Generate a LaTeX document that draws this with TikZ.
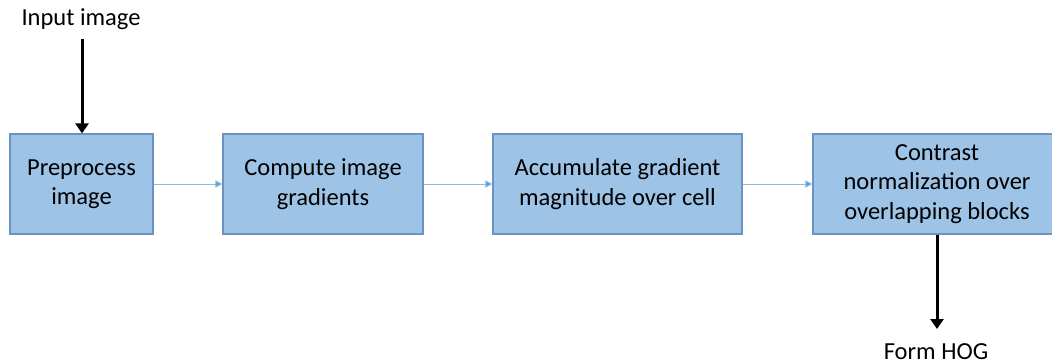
\documentclass[tikz,border=0pt]{standalone}
\usepackage{fontspec}
\setmainfont{Carlito}
\usetikzlibrary{arrows.meta}
\definecolor{boxfill}{HTML}{9DC3E6}
\definecolor{boxline}{HTML}{6A93C0}
\definecolor{flowline}{HTML}{5B9BD5}
\begin{document}
\begin{tikzpicture}[x=1pt,y=1pt,
  stepbox/.style={draw=boxline,line width=1.2pt,fill=boxfill,minimum height=100pt,inner sep=0pt,align=center,font=\fontsize{24.5}{29.5}\selectfont,text=black},
  lbl/.style={font=\fontsize{24.5}{29.5}\selectfont,text=black,inner sep=0pt},
  flow/.style={draw=flowline!70,line width=1pt,-{Triangle[length=7pt,width=7pt,fill=flowline]}},
  io/.style={draw=black,line width=3pt,-{Triangle[length=10pt,width=13pt]}}]
\useasboundingbox (0,0) rectangle (1052,-364);
\clip (0,0) rectangle (1052,-364);
\node[stepbox,minimum width=143pt] (b1) at (81.5,-184) {Preprocess\\image};
\node[stepbox,minimum width=200pt] (b2) at (323,-184) {Compute image\\gradients};
\node[stepbox,minimum width=249pt] (b3) at (617.5,-184) {Accumulate gradient\\magnitude over cell};
\node[stepbox,minimum width=248pt] (b4) at (937,-184) {Contrast\\normalization over\\overlapping blocks};
\node[lbl] (in) at (81,-19) {Input image};
\node[lbl] (out) at (936,-352) {Form HOG};
\coordinate (inS) at (82,-39);
\coordinate (outE) at (937,-329);
\draw[io] (inS) -- (b1.north -| inS);
\draw[io] (b4.south -| outE) -- (outE);
\draw[flow] (b1) -- (b2);
\draw[flow] (b2) -- (b3);
\draw[flow] (b3) -- (b4);
\end{tikzpicture}
\end{document}
